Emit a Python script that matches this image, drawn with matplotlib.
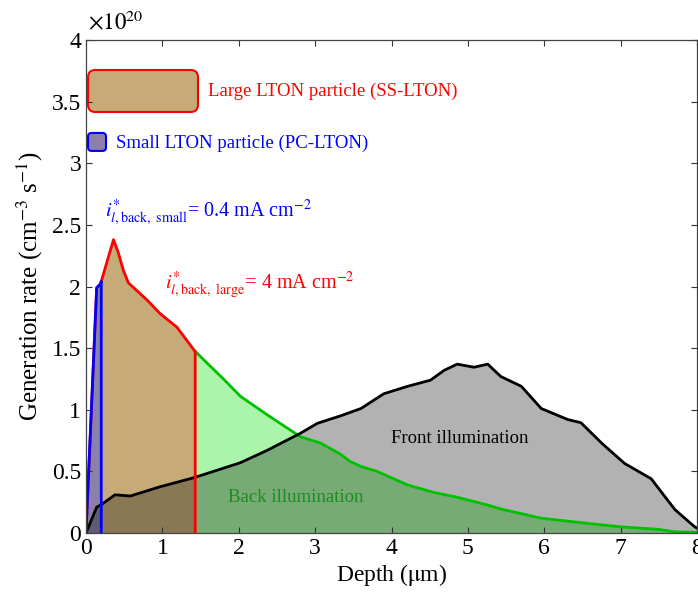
import numpy as np
import matplotlib
matplotlib.use("Agg")
import matplotlib.pyplot as plt
from matplotlib.patches import FancyBboxPatch
from matplotlib.ticker import FormatStrFormatter

plt.rcParams["font.family"] = ["Liberation Serif", "DejaVu Serif"]
plt.rcParams["mathtext.fontset"] = "stix"

# generation rate in units of 1e20 cm^-3 s^-1, depth in um
back_depth = [0, 0.14, 0.19, 0.27, 0.36, 0.42, 0.49, 0.555, 0.66, 0.80, 0.97,
              1.19, 1.42, 1.6, 1.8, 2.02, 2.37, 2.81, 3.07, 3.33, 3.46, 3.6,
              3.81, 4.21, 4.55, 4.86, 5.21, 5.43, 5.96, 6.39, 7.0, 7.49, 7.7, 8.0]
back_rate = [0, 1.99, 2.02, 2.19, 2.38, 2.28, 2.13, 2.03, 1.97, 1.89, 1.78,
             1.67, 1.48, 1.37, 1.25, 1.11, 0.96, 0.78, 0.73, 0.64, 0.58, 0.54,
             0.50, 0.39, 0.33, 0.29, 0.235, 0.195, 0.12, 0.09, 0.05, 0.03, 0.01, 0.005]

front_depth = [0, 0.14, 0.2, 0.38, 0.58, 0.97, 1.42, 2.02, 2.37, 2.81, 3.03,
               3.33, 3.6, 3.9, 4.21, 4.51, 4.69, 4.86, 5.08, 5.26, 5.43, 5.70,
               5.96, 6.31, 6.48, 6.75, 7.05, 7.40, 7.71, 7.97, 8.0]
front_rate = [0, 0.21, 0.23, 0.31, 0.30, 0.375, 0.45, 0.57, 0.67, 0.81, 0.89,
              0.95, 1.01, 1.13, 1.19, 1.24, 1.32, 1.37, 1.345, 1.37, 1.27, 1.19,
              1.01, 0.92, 0.895, 0.73, 0.565, 0.44, 0.19, 0.05, 0.04]

large_cut = 1.43   # SS-LTON particle thickness
small_cut = 0.20   # PC-LTON particle thickness


def clip_curve(x, y, xmax):
    x = np.asarray(x, float)
    y = np.asarray(y, float)
    keep = x < xmax
    xc = np.append(x[keep], xmax)
    yc = np.append(y[keep], np.interp(xmax, x, y))
    return xc, yc


def tail_curve(x, y, xmin):
    x = np.asarray(x, float)
    y = np.asarray(y, float)
    keep = x > xmin
    xc = np.insert(x[keep], 0, xmin)
    yc = np.insert(y[keep], 0, np.interp(xmin, x, y))
    return xc, yc


fig = plt.figure(figsize=(6.98, 5.98), dpi=100)
ax = fig.add_axes([0.1232, 0.1087, 0.8754, 0.8244])

xl, yl = clip_curve(back_depth, back_rate, large_cut)
xs, ys = clip_curve(back_depth, back_rate, small_cut)
xt, yt = tail_curve(back_depth, back_rate, large_cut)

ax.fill_between(back_depth, back_rate, color="#aaf5aa", lw=0)
ax.fill_between(xl, yl, color="#c6ab79", lw=0)
ax.fill_between(xs, ys, color="#8c80aa", lw=0)
ax.fill_between(front_depth, front_rate, color="black", alpha=0.3, lw=0)

ax.plot(xt, yt, color="#00c000", lw=2)
ax.plot(front_depth, front_rate, color="black", lw=2)
ax.plot(np.append(xl, large_cut), np.append(yl, 0), color="red", lw=2)
ax.plot(np.append(xs, small_cut), np.append(ys, 0), color="blue", lw=2)

# legend-like boxes
asp = 611 / 493
ax.add_patch(FancyBboxPatch((0.0033, 0.854), 0.18, 0.0852, transform=ax.transAxes,
                            boxstyle="round,pad=0,rounding_size=0.012",
                            mutation_aspect=asp, fc="#c6ab79", ec="red", lw=1.5,
                            clip_on=False))
ax.add_patch(FancyBboxPatch((0.0033, 0.775), 0.0295, 0.0365, transform=ax.transAxes,
                            boxstyle="round,pad=0,rounding_size=0.006",
                            mutation_aspect=asp, fc="#8c80aa", ec="blue", lw=1.5,
                            clip_on=False))
ax.text(0.2, 0.895, "Large LTON particle (SS-LTON)", transform=ax.transAxes,
        color="red", fontsize=13.5, va="center")
ax.text(0.049, 0.791, "Small LTON particle (PC-LTON)", transform=ax.transAxes,
        color="blue", fontsize=13.5, va="center")

ax.text(0.25, 2.556, r"$i^{*}_{l,\mathrm{back,\ small}}$= 0.4 mA cm$^{-2}$",
        color="blue", fontsize=14.5, va="baseline")
ax.text(1.04, 1.97, r"$i^{*}_{l,\mathrm{back,\ large}}$= 4 mA cm$^{-2}$",
        color="red", fontsize=14.5, va="baseline")
ax.text(4.9, 0.77, "Front illumination", color="black", fontsize=13.5,
        ha="center", va="center")
ax.text(2.74, 0.29, "Back illumination", color="#1e8c1e", fontsize=13.5,
        ha="center", va="center")

ax.text(0.003, 1.012, r"$\times10^{20}$", transform=ax.transAxes, fontsize=16.5,
        va="bottom")

ax.set_xlim(0, 8)
ax.set_ylim(0, 4)
ax.set_xticks(np.arange(0, 9, 1))
ax.set_yticks(np.arange(0, 4.01, 0.5))
ax.yaxis.set_major_formatter(FormatStrFormatter("%g"))
ax.tick_params(direction="in", length=4, width=0.8, labelsize=17,
               top=True, right=True, colors="#333333", labelcolor="black")
for s in ax.spines.values():
    s.set_color("#444444")
    s.set_linewidth(0.9)

ax.set_xlabel(r"Depth ($\mathrm{\mu}$m)", fontsize=17, labelpad=2)
ax.set_ylabel(r"Generation rate (cm$^{-3}$ s$^{-1}$)", fontsize=18, labelpad=5)

fig.savefig("out.png", dpi=100)
